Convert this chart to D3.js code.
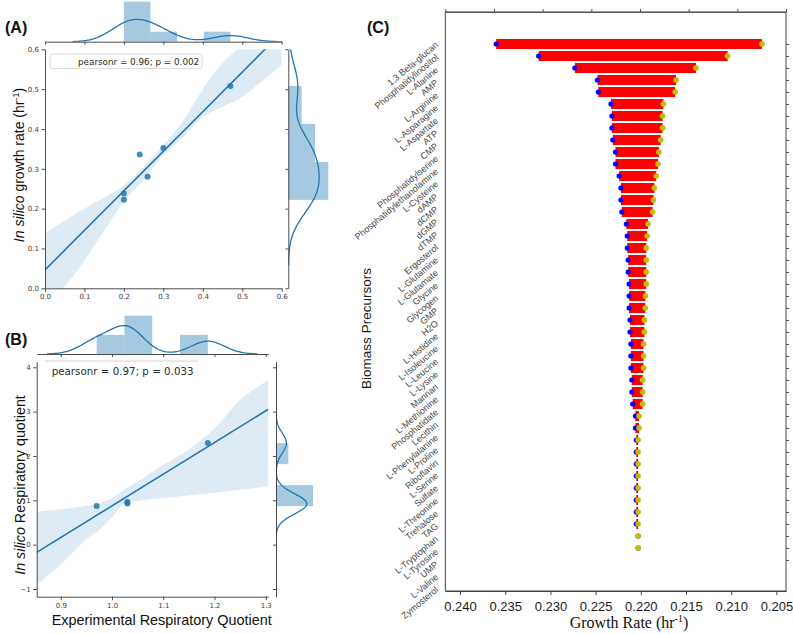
<!DOCTYPE html>
<html>
<head>
<meta charset="utf-8">
<script src="https://cdn.jsdelivr.net/npm/d3@7/dist/d3.min.js"></script>
<style>
html,body{margin:0;padding:0;background:#fff;}
svg{display:block;}
</style>
</head>
<body>
<svg id="chart" width="793" height="634"></svg>
<script>
// ---------- Panel A data ----------
const aExperimental = [0.20, 0.20, 0.24, 0.26, 0.30, 0.47];
const aInSilico     = [0.238, 0.222, 0.336, 0.280, 0.352, 0.508];
const aBandX  = [0, 0.05, 0.1, 0.15, 0.2, 0.25, 0.3, 0.35, 0.4, 0.45, 0.5, 0.55, 0.6];
const aBandLo = [-0.04, 0.005, 0.07, 0.145, 0.218, 0.272, 0.335, 0.38, 0.43, 0.455, 0.48, 0.52, 0.561];
const aBandHi = [0.138, 0.17, 0.20, 0.228, 0.258, 0.305, 0.36, 0.42, 0.50, 0.565, 0.61, 0.66, 0.71];
const aTicks  = [0, 0.1, 0.2, 0.3, 0.4, 0.5, 0.6];
const aStat   = "pearsonr = 0.96; p = 0.002";

// ---------- Panel B data ----------
const bExperimental = [0.97, 1.03, 1.03, 1.187];
const bInSilico     = [0.87, 0.93, 0.96, 2.29];
const bBandX  = [0.853, 0.9, 0.95, 0.975, 1.0, 1.03, 1.05, 1.1, 1.15, 1.2, 1.25, 1.305];
const bBandLo = [-0.91, -0.45, 0.12, 0.33, 0.62, 0.97, 0.99, 1.05, 1.11, 1.17, 1.24, 1.31];
const bBandHi = [0.74, 0.80, 0.87, 0.93, 1.06, 1.29, 1.42, 1.80, 2.15, 2.62, 3.26, 3.71];
const bXTicks = [0.9, 1.0, 1.1, 1.2, 1.3];
const bYTicks = [-1, 0, 1, 2, 3, 4];
const bStat   = "pearsonr = 0.97; p = 0.033";

// ---------- Panel C data ----------
const cPrecursors = ["1,3 Beta-glucan","Phosphatidylinositol","L-Alanine","AMP","L-Arginine","L-Asparagine",
  "L-Aspartate","ATP","CMP","Phosphatidylserine","Phosphatidylethanolamine","L-Cysteine","dAMP","dCMP","dGMP",
  "dTMP","Ergosterol","L-Glutamine","L-Glutamate","Glycine","Glycogen","GMP","H2O","L-Histidine","L-Isoleucine",
  "L-Leucine","L-Lysine","Mannan","L-Methionine","Phosphatidate","Lecithin","L-Phenylalanine","L-Proline",
  "Riboflavin","L-Serine","Sulfate","L-Threonine","Trehalose","TAG","L-Tryptophan","L-Tyrosine","UMP","L-Valine",
  "Zymosterol"];
// blue markers (higher growth rate end)
const cGrowthMax = [0.2360,0.2313,0.2273,0.2248,0.2247,0.2233,0.2232,0.2232,0.2231,0.2228,0.2228,0.2224,0.2222,
  0.2222,0.2221,0.2216,0.2215,0.2215,0.2214,0.2214,0.2213,0.2213,0.2213,0.2212,0.2212,0.2211,0.2211,0.2211,0.2210,
  0.2210,0.2209,0.2206,0.2206,0.2205,0.2205,0.2205,0.2205,0.2205,0.2205,0.2205,0.2205,0.2203,0.2203,null];
// yellow markers (lower growth rate end)
const cGrowthMin = [0.2066,0.2104,0.2139,0.2161,0.2162,0.2175,0.2176,0.2176,0.2178,0.2180,0.2181,0.2183,0.2185,
  0.2186,0.2187,0.2192,0.2193,0.2194,0.2194,0.2194,0.2194,0.2195,0.2195,0.2196,0.2196,0.2197,0.2197,0.2197,0.2198,
  0.2198,0.2198,0.2202,0.2202,0.2203,0.2203,0.2203,0.2203,0.2203,0.2203,0.2203,0.2203,0.2203,0.2203,null];
const cTicks = [0.240, 0.235, 0.230, 0.225, 0.220, 0.215, 0.210, 0.205];

// ---------- helpers ----------
const svg = d3.select("#chart");
const defs = svg.append("defs");
const BLUE = "#1f77b4";
const AX = "#3a3a3a";
const MPL = "'DejaVu Sans', sans-serif";
const ARIAL = "'Liberation Sans', Arial, sans-serif";

function linfit(x, y) {
  const mx = d3.mean(x), my = d3.mean(y);
  let sxy = 0, sxx = 0;
  x.forEach((v, i) => { sxy += (v - mx) * (y[i] - my); sxx += (v - mx) * (v - mx); });
  const b = sxy / sxx;
  return { b, a: my - b * mx };
}
function bwScott(v) {
  const s = [...v].sort(d3.ascending);
  const sd = d3.deviation(v);
  const iqr = (d3.quantileSorted(s, 0.75) - d3.quantileSorted(s, 0.25)) / 1.349;
  const A = iqr > 0 ? Math.min(sd, iqr) : sd;
  return 1.059 * A * Math.pow(v.length, -0.2);
}
function kde(v) {
  const bw = bwScott(v);
  const lo = d3.min(v) - 3 * bw, hi = d3.max(v) + 3 * bw, m = 200, pts = [];
  for (let i = 0; i <= m; i++) {
    const x = lo + (hi - lo) * i / m;
    let s = 0;
    for (const d of v) { const z = (x - d) / bw; s += Math.exp(-0.5 * z * z); }
    pts.push([x, s / (v.length * bw * Math.sqrt(2 * Math.PI))]);
  }
  return pts;
}
function fdBins(v) {
  const s = [...v].sort(d3.ascending), n = v.length;
  const iqr = d3.quantileSorted(s, 0.75) - d3.quantileSorted(s, 0.25);
  const h = 2 * iqr / Math.pow(n, 1 / 3);
  const lo = s[0], hi = s[n - 1];
  const k = Math.min(50, Math.ceil((hi - lo) / h));
  const w = (hi - lo) / k;
  const counts = new Array(k).fill(0);
  for (const d of v) { let i = Math.floor((d - lo) / w + 1e-9); if (i >= k) i = k - 1; counts[i]++; }
  return counts.map((c, i) => ({ x0: lo + i * w, x1: lo + (i + 1) * w, density: c / (n * w) }));
}
function styleAxis(g, fs, color) {
  color = color || AX;
  g.select(".domain").attr("stroke", color).attr("stroke-width", 0.9);
  g.selectAll(".tick line").attr("stroke", color).attr("stroke-width", 0.9);
  g.selectAll(".tick text").attr("fill", color).attr("font-family", MPL).attr("font-size", fs);
}

function drawJoint(cfg) {
  const { id, xd, yd, xs, ys, bx, blo, bhi, xTicks, yTicks, xFmt, yFmt,
          topBase, topH, rightBase, rightW } = cfg;
  const [x0, x1] = xs.range(), [y0, y1] = ys.range();
  const g = svg.append("g");
  defs.append("clipPath").attr("id", id + "main").append("rect")
    .attr("x", x0).attr("y", y1).attr("width", x1 - x0).attr("height", y0 - y1);
  defs.append("clipPath").attr("id", id + "top").append("rect")
    .attr("x", x0).attr("y", topBase - topH - 5).attr("width", x1 - x0).attr("height", topH + 5);
  defs.append("clipPath").attr("id", id + "right").append("rect")
    .attr("x", rightBase).attr("y", y1).attr("width", rightW + 5).attr("height", y0 - y1);

  // confidence band
  const band = bx.map((x, i) => ({ x, lo: blo[i], hi: bhi[i] }));
  g.append("path").datum(band).attr("clip-path", `url(#${id}main)`)
    .attr("fill", BLUE).attr("fill-opacity", 0.15)
    .attr("d", d3.area().x(d => xs(d.x)).y0(d => ys(d.lo)).y1(d => ys(d.hi)).curve(d3.curveMonotoneX));
  // scatter
  g.selectAll(".pt").data(xd.map((x, i) => [x, yd[i]])).join("circle")
    .attr("cx", d => xs(d[0])).attr("cy", d => ys(d[1])).attr("r", 3)
    .attr("fill", BLUE).attr("fill-opacity", 0.85);
  // regression line
  const fit = linfit(xd, yd);
  const dom = xs.domain();
  g.append("path").datum(dom).attr("clip-path", `url(#${id}main)`)
    .attr("fill", "none").attr("stroke", BLUE).attr("stroke-width", 1.6)
    .attr("d", d3.line().x(d => xs(d)).y(d => ys(fit.a + fit.b * d)));
  // main axes
  const ga = g.append("g").attr("transform", `translate(${x0},0)`)
    .call(d3.axisLeft(ys).tickValues(yTicks).tickFormat(yFmt).tickSize(3.5).tickPadding(2.5).tickSizeOuter(0));
  styleAxis(ga, 7);
  const gb = g.append("g").attr("transform", `translate(0,${y0})`)
    .call(d3.axisBottom(xs).tickValues(xTicks).tickFormat(xFmt).tickSize(3.5).tickPadding(2.5).tickSizeOuter(0));
  styleAxis(gb, 7);

  // top marginal
  const hx = fdBins(xd), kx = kde(xd);
  const tmax = d3.max(hx, d => d.density);
  const ts = d3.scaleLinear().domain([0, tmax * 1.05]).range([topBase, topBase - topH]);
  const gt = g.append("g");
  gt.selectAll("rect").data(hx).join("rect")
    .attr("x", d => xs(d.x0)).attr("width", d => xs(d.x1) - xs(d.x0))
    .attr("y", d => ts(d.density)).attr("height", d => topBase - ts(d.density))
    .attr("fill", BLUE).attr("fill-opacity", 0.4);
  gt.append("path").datum(kx).attr("clip-path", `url(#${id}top)`)
    .attr("fill", "none").attr("stroke", BLUE).attr("stroke-width", 1.3)
    .attr("d", d3.line().x(d => xs(d[0])).y(d => ts(d[1])));
  const gta = g.append("g").attr("transform", `translate(0,${topBase})`)
    .call(d3.axisBottom(xs).tickValues(xTicks).tickFormat("").tickSize(3).tickSizeOuter(0));
  styleAxis(gta, 7);

  // right marginal
  const hy = fdBins(yd), ky = kde(yd);
  const rmax = d3.max(hy, d => d.density);
  const rs = d3.scaleLinear().domain([0, rmax * 1.05]).range([rightBase, rightBase + rightW]);
  const gr = g.append("g");
  gr.selectAll("rect").data(hy).join("rect")
    .attr("y", d => ys(d.x1)).attr("height", d => ys(d.x0) - ys(d.x1))
    .attr("x", rightBase).attr("width", d => rs(d.density) - rightBase)
    .attr("fill", BLUE).attr("fill-opacity", 0.4);
  gr.append("path").datum(ky).attr("clip-path", `url(#${id}right)`)
    .attr("fill", "none").attr("stroke", BLUE).attr("stroke-width", 1.3)
    .attr("d", d3.line().x(d => rs(d[1])).y(d => ys(d[0])));
  const gra = g.append("g").attr("transform", `translate(${rightBase},0)`)
    .call(d3.axisLeft(ys).tickValues(yTicks).tickFormat("").tickSize(3).tickSizeOuter(0));
  styleAxis(gra, 7);
  return g;
}

// ---------- Panel A ----------
const xA = d3.scaleLinear().domain([0, 0.6]).range([45, 281.7]);
const yA = d3.scaleLinear().domain([0, 0.6]).range([288.3, 49.3]);
drawJoint({ id: "A", xd: aExperimental, yd: aInSilico, xs: xA, ys: yA,
  bx: aBandX, blo: aBandLo, bhi: aBandHi, xTicks: aTicks, yTicks: aTicks,
  xFmt: d3.format(".1f"), yFmt: d3.format(".1f"),
  topBase: 41.7, topH: 42, rightBase: 288.3, rightW: 42 });
// legend A
svg.append("rect").attr("x", 50).attr("y", 54).attr("width", 152).attr("height", 14.5).attr("rx", 2.5)
  .attr("fill", "#fff").attr("fill-opacity", 0.85).attr("stroke", "#d4d4d4").attr("stroke-width", 0.8);
svg.append("text").attr("x", 78).attr("y", 65).attr("font-family", MPL).attr("font-size", 8.8)
  .attr("fill", "#2a2a2a").text(aStat);
// y label A
const ylA = svg.append("text").attr("transform", "translate(24,165) rotate(-90)")
  .attr("text-anchor", "middle").attr("font-family", ARIAL).attr("font-size", 14).attr("fill", "#111");
ylA.append("tspan").attr("font-style", "italic").text("In silico");
ylA.append("tspan").text(" growth rate (hr");
ylA.append("tspan").attr("font-size", 9).attr("dy", -5).text("-1");
ylA.append("tspan").attr("dy", 5).text(")");
svg.append("text").attr("x", 5).attr("y", 33).attr("font-family", ARIAL).attr("font-weight", "bold")
  .attr("font-size", 16).attr("fill", "#111").text("(A)");

// ---------- Panel B ----------
const xB = d3.scaleLinear().domain([0.853, 1.305]).range([36.7, 268.3]);
const yB = d3.scaleLinear().domain([-1.174, 4.126]).range([596.7, 361.7]);
drawJoint({ id: "B", xd: bExperimental, yd: bInSilico, xs: xB, ys: yB,
  bx: bBandX, blo: bBandLo, bhi: bBandHi, xTicks: bXTicks, yTicks: bYTicks,
  xFmt: d3.format(".1f"), yFmt: d3.format("d"),
  topBase: 354, topH: 40.2, rightBase: 276, rightW: 38.9 });
// legend B
svg.append("rect").attr("x", 45).attr("y", 361).attr("width", 153).attr("height", 21)
  .attr("fill", "#fff").attr("fill-opacity", 0.85);
svg.append("line").attr("x1", 45).attr("x2", 198).attr("y1", 361).attr("y2", 361)
  .attr("stroke", "#cfcfcf").attr("stroke-width", 0.9);
svg.append("text").attr("x", 51.7).attr("y", 375).attr("font-family", MPL).attr("font-size", 10.3)
  .attr("fill", "#2a2a2a").text(bStat);
const ylB = svg.append("text").attr("transform", "translate(25,485) rotate(-90)")
  .attr("text-anchor", "middle").attr("font-family", ARIAL).attr("font-size", 14.3).attr("fill", "#111");
ylB.append("tspan").attr("font-style", "italic").text("In silico");
ylB.append("tspan").text(" Respiratory quotient");
svg.append("text").attr("x", 161.7).attr("y", 625).attr("text-anchor", "middle").attr("font-family", ARIAL)
  .attr("font-size", 14.4).attr("fill", "#111").text("Experimental Respiratory Quotient");
svg.append("text").attr("x", 5).attr("y", 345).attr("font-family", ARIAL).attr("font-weight", "bold")
  .attr("font-size", 16).attr("fill", "#111").text("(B)");

// ---------- Panel C ----------
const xC = d3.scaleLinear().domain([0.24163, 0.20394]).range([445.3, 786]);
const yC = d3.scalePoint().domain(cPrecursors).range([44, 560]);
const yLab = d3.scalePoint().domain(cPrecursors).range([43, 588]);
const gC = svg.append("g");
gC.append("rect").attr("x", 445.3).attr("y", 12).attr("width", 786 - 445.3).attr("height", 591 - 12)
  .attr("fill", "none").attr("stroke", "#444").attr("stroke-width", 1);
const rows = cPrecursors.map((name, i) => ({ name, hi: cGrowthMax[i], lo: cGrowthMin[i] }))
  .filter(d => d.hi != null);
gC.selectAll(".bar").data(rows).join("rect")
  .attr("x", d => xC(d.hi)).attr("width", d => Math.max(0, xC(d.lo) - xC(d.hi)))
  .attr("y", d => yC(d.name) - 5).attr("height", 10).attr("fill", "#ff0000");
gC.selectAll(".hi").data(rows).join("circle")
  .attr("cx", d => xC(d.hi)).attr("cy", d => yC(d.name)).attr("r", 2.6).attr("fill", "#0000ff");
gC.selectAll(".lo").data(rows).join("circle")
  .attr("cx", d => xC(d.lo)).attr("cy", d => yC(d.name)).attr("r", 2.8).attr("fill", "#bfbf00");

const cb = gC.append("g").attr("transform", "translate(0,591)")
  .call(d3.axisBottom(xC).tickValues(cTicks).tickFormat(d3.format(".3f")).tickSize(4).tickPadding(7).tickSizeOuter(0));
cb.select(".domain").attr("stroke", "#444");
cb.selectAll(".tick line").attr("stroke", "#444");
cb.selectAll(".tick text").attr("font-family", ARIAL).attr("font-size", 13).attr("fill", "#1a1a1a");
const ct = gC.append("g").attr("transform", "translate(0,12)")
  .call(d3.axisTop(d3.scaleLinear().domain([0, 7]).range([445.3, 786])).ticks(7).tickFormat("").tickSize(3).tickSizeOuter(0));
ct.selectAll("path,line").attr("stroke", "#555");
const cr = gC.append("g").attr("transform", "translate(786,0)")
  .call(d3.axisRight(yC).tickFormat("").tickSize(3).tickSizeOuter(0));
cr.select(".domain").remove();
cr.selectAll("line").attr("stroke", "#555");
const cl = gC.append("g").attr("transform", "translate(437,0)")
  .call(d3.axisLeft(yLab).tickSize(0).tickPadding(0));
cl.select(".domain").remove();
cl.selectAll(".tick text").attr("transform", "rotate(-40)").attr("text-anchor", "end")
  .attr("font-family", ARIAL).attr("font-size", 9).attr("fill", "#444");

svg.append("text").attr("transform", "translate(371,328.5) rotate(-90)").attr("text-anchor", "middle")
  .attr("font-family", ARIAL).attr("font-size", 13.5).attr("fill", "#1a1a1a").text("Biomass Precursors");
const xlC = svg.append("text").attr("x", 629).attr("y", 628).attr("text-anchor", "middle")
  .attr("font-family", "'Liberation Serif', 'Times New Roman', serif").attr("font-size", 16).attr("fill", "#111");
xlC.append("tspan").text("Growth Rate (hr");
xlC.append("tspan").attr("font-size", 10).attr("dy", -6).text("-1");
xlC.append("tspan").attr("dy", 6).text(")");
svg.append("text").attr("x", 367).attr("y", 33).attr("font-family", ARIAL).attr("font-weight", "bold")
  .attr("font-size", 16).attr("fill", "#111").text("(C)");
</script>
</body>
</html>
